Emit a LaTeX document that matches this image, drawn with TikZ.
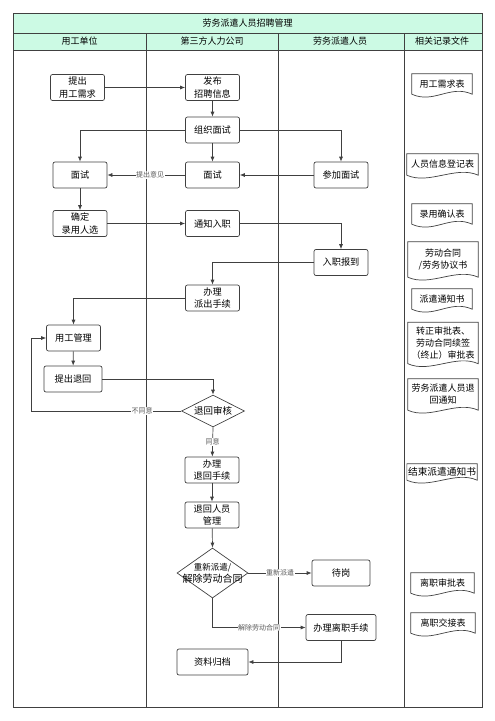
\documentclass[tikz,border=0pt]{standalone}
\usepackage{fontspec}
\setmainfont{Noto Sans CJK SC}
\usetikzlibrary{arrows.meta,shapes.geometric}
\definecolor{headMint}{RGB}{204,250,228}
\definecolor{lineGray}{RGB}{64,64,64}
\begin{document}
\begin{tikzpicture}[x=1pt,y=-1pt,
    stepbox/.style={draw=lineGray,line width=0.7pt,rounded corners=2pt,minimum width=54pt,minimum height=26pt,inner sep=1pt,align=center,font=\fontsize{9.2}{12.5}\selectfont},
    docbox/.style={inner sep=1pt,align=center,font=\fontsize{9}{12}\selectfont},
    docline/.style={draw=lineGray,line width=0.7pt},
    checkbox/.style={diamond,draw=lineGray,line width=0.7pt,inner sep=0pt},
    dtext/.style={inner sep=0pt,align=center,font=\fontsize{9.5}{12}\selectfont},
    flow/.style={draw=lineGray,line width=0.7pt,-{Latex[length=5pt,width=4pt]}},
    edgetext/.style={fill=white,text=black!65,inner sep=0.5pt,font=\fontsize{7}{8}\selectfont},
    lanehead/.style={font=\fontsize{9}{11}\selectfont}]

\useasboundingbox (0,0) rectangle (495,721);

% table
\fill[headMint] (13,13) rectangle (482,50);
\draw[lineGray,line width=0.8pt] (13,13) rectangle (482,707);
\draw[lineGray,line width=0.8pt] (13,33) -- (482,33);
\draw[lineGray,line width=0.8pt] (13,50) -- (482,50);
\foreach \x in {146,278,404}
{
    \draw[lineGray,line width=0.8pt] (\x,33) -- (\x,707);
};
\node[lanehead] (tTitle) at (247.5,23) {劳务派遣人员招聘管理};
\foreach \n/\x/\t in
{tUnit/79.5/用工单位,
    tAgency/212/第三方人力公司,
    tStaff/340/劳务派遣人员,
    tFiles/442/相关记录文件}
{
    \node[lanehead] (\n) at (\x,41.5) {\t};
};

% steps
\node[stepbox] (bNeed) at (77.5,87.5) {提出\\用工需求};
\node[stepbox] (bPost) at (212.5,87.5) {发布\\招聘信息};
\node[stepbox] (bOrg) at (212.5,130) {组织面试};
\node[stepbox] (bIntL) at (80,175) {面试};
\node[stepbox] (bIntM) at (212.5,175) {面试};
\node[stepbox] (bJoinIn) at (341,175) {参加面试};
\node[stepbox] (bPick) at (80,223.5) {确定\\录用人选};
\node[stepbox] (bNotify) at (212.5,223.5) {通知入职};
\node[stepbox] (bReport) at (341,262.5) {入职报到};
\node[stepbox] (bDispatch) at (212.5,298) {办理\\派出手续};
\node[stepbox] (bManage) at (73.5,338) {用工管理};
\node[stepbox,minimum width=58pt] (bReturn) at (73,379) {提出退回};
\node[checkbox,minimum width=63pt,minimum height=32pt] (dCheck) at (213,411) {};
\node[dtext] (dCheckTxt) at (dCheck) {退回审核};
\node[stepbox] (bRetProc) at (212,470) {办理\\退回手续};
\node[stepbox] (bRetMgr) at (212,515) {退回人员\\管理};
\node[checkbox,minimum width=71pt,minimum height=50pt] (dChoice) at (212.5,573) {};
\node[dtext] (dChoiceTxt) at (dChoice) {{\fontsize{8.5}{10}\selectfont 重新派遣/}\\{\fontsize{10}{12}\selectfont 解除劳动合同}};
\node[stepbox,minimum width=58pt] (bWait) at (341,573) {待岗};
\node[stepbox,minimum width=70pt] (bLeave) at (341,627.5) {办理离职手续};
\node[stepbox,minimum width=71pt] (bArchive) at (212.5,662) {资料归档};
\coordinate (cBackPt) at (31,411);

% files
\node[docbox,minimum width=60pt,minimum height=20pt] (fNeed) at (442,84) {用工需求表};
\node[docbox,minimum width=71pt,minimum height=21pt] (fInfo) at (442.5,164.5) {人员信息登记表};
\node[docbox,minimum width=60pt,minimum height=20pt] (fHire) at (442,214) {录用确认表};
\node[docbox,minimum width=70pt,minimum height=35pt] (fContract) at (443,259.5) {劳动合同\\/劳务协议书};
\node[docbox,minimum width=60pt,minimum height=20pt] (fDispatch) at (442,299) {派遣通知书};
\node[docbox,minimum width=70pt,minimum height=41pt] (fApprove) at (443,343) {转正审批表、\\劳动合同续签\\（终止）审批表};
\node[docbox,minimum width=70pt,minimum height=31pt] (fRecall) at (443,394.5) {劳务派遣人员退\\回通知};
\node[docbox,minimum width=68pt,minimum height=16pt,font=\fontsize{9.7}{12}\selectfont] (fEnd) at (442,472) {结束派遣通知书};
\node[docbox,minimum width=63pt,minimum height=20pt] (fQuit) at (442.5,583) {离职审批表};
\node[docbox,minimum width=64pt,minimum height=20pt] (fHand) at (443,623) {离职交接表};
\foreach \d in {fNeed,fInfo,fHire,fContract,fDispatch,fApprove,fRecall,fEnd,fQuit,fHand}
{
    \draw[docline] (\d.north west) -- (\d.north east) -- (\d.south east)
        .. controls +(-22,-10) and +(22,10) .. (\d.south west) -- cycle;
};

% flow
\draw[flow] (bNeed) -- (bPost);
\draw[flow] (bPost) -- (bOrg);
\draw[flow] (bOrg) -- (bIntM);
\draw[flow] (bOrg.west) -| (bIntL.north);
\draw[flow] (bOrg.east) -| (bJoinIn.north);
\draw[flow] (bJoinIn) -- (bIntM);
\draw[flow] (bIntM) -- node[edgetext,pos=0.45]{提出意见} (bIntL);
\draw[flow] (bIntL) -- (bPick);
\draw[flow] (bPick) -- (bNotify);
\draw[flow] (bNotify.east) -| (bReport.north);
\draw[flow] (bReport.west) -| (bDispatch.north);
\draw[flow] (bDispatch.west) -| (bManage.north);
\draw[flow] (bManage) -- (bReturn);
\draw[flow] (bReturn.east) -| (dCheck.north);
\draw[flow] (dCheck.west) -- node[edgetext,pos=0.26]{不同意} (cBackPt) |- (bManage.west);
\draw[flow] (dCheck.south) -- node[edgetext]{同意} (bRetProc);
\draw[flow] (bRetProc) -- (bRetMgr);
\draw[flow] (bRetMgr) -- (dChoice.north);
\draw[flow] (dChoice.east) -- node[edgetext]{重新派遣} (bWait.west);
\draw[flow] (dChoice.south) |- node[edgetext,pos=0.75]{解除劳动合同} (bLeave.west);
\draw[flow] (bLeave.south) |- (bArchive.east);

\end{tikzpicture}
\end{document}
